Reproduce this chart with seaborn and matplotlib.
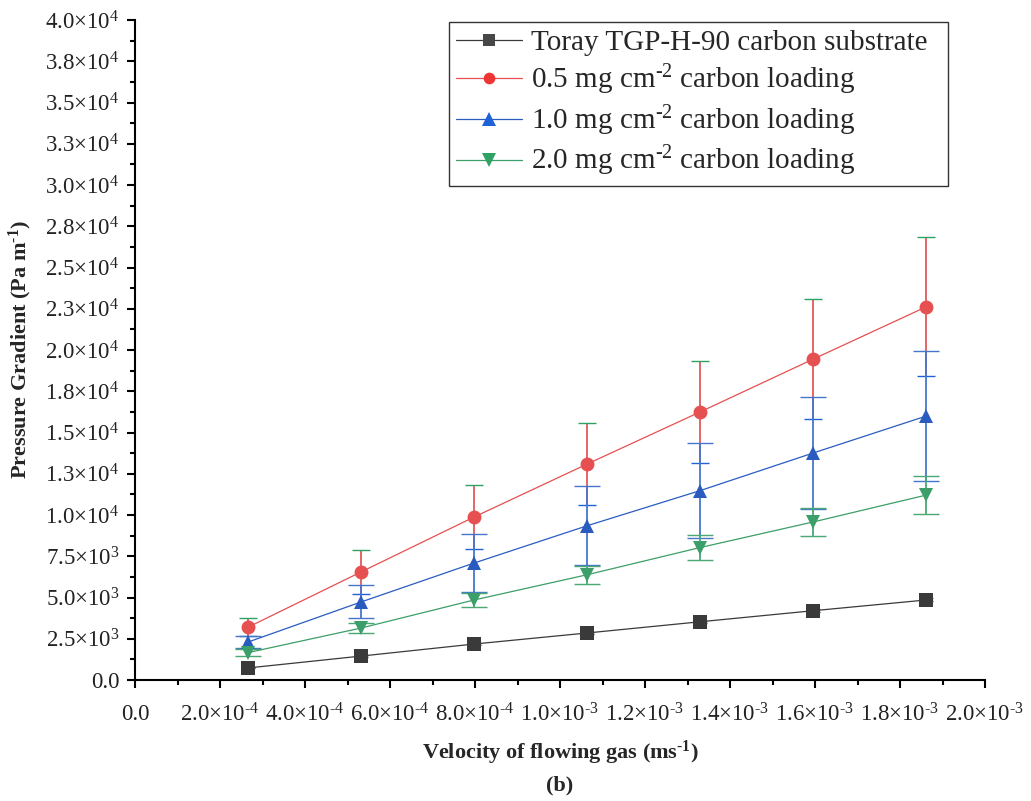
import math
import numpy as np
import pandas as pd
import matplotlib
matplotlib.use("Agg")
import matplotlib.pyplot as plt
from matplotlib.ticker import FuncFormatter, MultipleLocator, AutoMinorLocator
from matplotlib.lines import Line2D
import seaborn as sns

# ---------------- data ----------------
velocity = [2.66e-4, 5.32e-4, 7.98e-4, 1.064e-3, 1.33e-3, 1.596e-3, 1.862e-3]

HY = "\u2010"  # short hyphen used in superscripts
series_labels = [
    "Toray TGP-H-90 carbon substrate",
    "0.5 mg cm$^{\\mathregular{" + HY + "2}}$ carbon loading",
    "1.0 mg cm$^{\\mathregular{" + HY + "2}}$ carbon loading",
    "2.0 mg cm$^{\\mathregular{" + HY + "2}}$ carbon loading",
]

substrate = [730, 1450, 2180, 2850, 3530, 4200, 4850]
substrate_err = [30, 40, 50, 60, 70, 80, 90]

load_05 = [3200, 6550, 9880, 13090, 16250, 19450, 22620]
load_05_err = [560, 1330, 1950, 2500, 3100, 3640, 4200]

load_10 = [2300, 4730, 7090, 9350, 11480, 13760, 16000]
load_10_err = [380, 1000, 1750, 2400, 2860, 3400, 3950]

load_20 = [1660, 3150, 4850, 6380, 8030, 9580, 11210]
load_20_err = [200, 330, 420, 540, 760, 850, 1140]

x_label = "Velocity of flowing gas (ms$^{\\mathbf{" + HY + "1}}$)"
y_label = "Pressure Gradient (Pa m$^{\\mathbf{" + HY + "1}}$)"
panel_label = "(b)"

# ---------------- style ----------------
sns.set_style("ticks")
plt.rcParams["font.family"] = ["Liberation Serif", "DejaVu Serif"]
plt.rcParams["mathtext.fontset"] = "custom"
plt.rcParams["mathtext.rm"] = "Liberation Serif"
plt.rcParams["mathtext.it"] = "Liberation Serif:italic"
plt.rcParams["mathtext.bf"] = "Liberation Serif:bold"

colors = ["#474747", "#ee3535", "#1f62d6", "#2ea262"]
err_colors = ["#474747", "#e05a5a", "#4676cc", "#4aa874"]
line_colors = ["#3a3a3a", "#e65050", "#2a5cc0", "#3c9e68"]
markers = ["s", "o", "^", "v"]
msizes = [10, 10.5, 12.5, 12.5]

values = [substrate, load_05, load_10, load_20]
errors = [substrate_err, load_05_err, load_10_err, load_20_err]

df = pd.DataFrame({
    "velocity": np.tile(velocity, 4),
    "gradient": np.concatenate(values),
    "series": np.repeat(series_labels, len(velocity)),
})

fig = plt.figure(figsize=(10.31, 8.01), dpi=100)
ax = fig.add_axes([135 / 1031, 1 - 680 / 801, 850 / 1031, 660 / 801])

# error bars first (under the symbols)
for i, lab in enumerate(series_labels):
    ax.errorbar(velocity, values[i], yerr=errors[i], fmt="none",
                ecolor=err_colors[i], elinewidth=1.3, capsize=9.5,
                capthick=1.0, zorder=1.5)

sns.lineplot(data=df, x="velocity", y="gradient", hue="series",
             style="series", hue_order=series_labels, style_order=series_labels,
             palette=dict(zip(series_labels, line_colors)),
             markers=dict(zip(series_labels, markers)), dashes=False,
             linewidth=0.9, markersize=10, markeredgewidth=0,
             ax=ax, zorder=3)

for i, line in enumerate(ax.get_lines()[:4]):
    line.set_markerfacecolor(colors[i])
    line.set_markeredgecolor(colors[i])
    line.set_markersize(msizes[i])

# ---------------- axes ----------------
ax.set_xlim(0, 2.0e-3)
ax.set_ylim(0, 40000)


def sci_fmt(v, pos):
    if abs(v) < 1e-12:
        return "0.0"
    e = int(math.floor(math.log10(abs(v)) + 1e-9))
    m = v / 10 ** e
    m = math.floor(m * 10 + 0.5 + 1e-9) / 10
    if m >= 10:
        m /= 10
        e += 1
    es = str(e).replace("-", HY)
    return f"{m:.1f}\u00d710$^{{\\mathregular{{{es}}}}}$"


ax.xaxis.set_major_locator(MultipleLocator(2e-4))
ax.xaxis.set_minor_locator(AutoMinorLocator(2))
ax.yaxis.set_major_locator(MultipleLocator(2500))
ax.yaxis.set_minor_locator(AutoMinorLocator(2))
ax.xaxis.set_major_formatter(FuncFormatter(sci_fmt))
ax.yaxis.set_major_formatter(FuncFormatter(sci_fmt))

ax.tick_params(axis="both", which="major", direction="out", length=6,
               width=1.5, labelsize=16.5, color="black",
               labelcolor="#222222")
ax.tick_params(axis="y", which="major", pad=5)
ax.tick_params(axis="x", which="major", pad=11)
ax.tick_params(axis="both", which="minor", direction="out", length=3.5,
               width=1.5, color="black")

for s in ["top", "right"]:
    ax.spines[s].set_visible(False)
for s in ["left", "bottom"]:
    ax.spines[s].set_linewidth(1.5)
    ax.spines[s].set_color("black")

ax.set_xlabel(x_label, fontsize=16, fontweight="bold")
ax.set_ylabel(y_label, fontsize=16, fontweight="bold")
ax.xaxis.label.set_va("center")
ax.yaxis.label.set_va("center")
ax.xaxis.set_label_coords(0.5, (680 - 753) / 660)
ax.yaxis.set_label_coords((20 - 135) / 850, 0.5)
ax.text(0.5, (680 - 785) / 660, panel_label, transform=ax.transAxes,
        ha="center", va="center", fontsize=16, fontweight="bold")

# ---------------- legend ----------------
if ax.get_legend() is not None:
    ax.get_legend().remove()
leg_handles = [Line2D([0], [0], color=line_colors[i], lw=0.9, marker=markers[i],
                      markersize=msizes[i] * 0.8, markerfacecolor=colors[i],
                      markeredgewidth=0) for i in range(4)]
lx0 = (449 - 135) / 850
lw = (948 - 449) / 850
ltop = (680 - 22) / 660
lh = (177 - 22) / 660
leg = ax.legend(leg_handles, series_labels, loc="upper left",
                bbox_to_anchor=(lx0, ltop - lh, lw, lh), mode="expand",
                borderaxespad=0, fontsize=21, frameon=True, fancybox=False,
                edgecolor="#333333", framealpha=1, handlelength=2.25,
                handletextpad=0.3, labelspacing=0.22, borderpad=0.25)
leg.get_frame().set_linewidth(1.0)

fig.savefig("out.png", dpi=100)
